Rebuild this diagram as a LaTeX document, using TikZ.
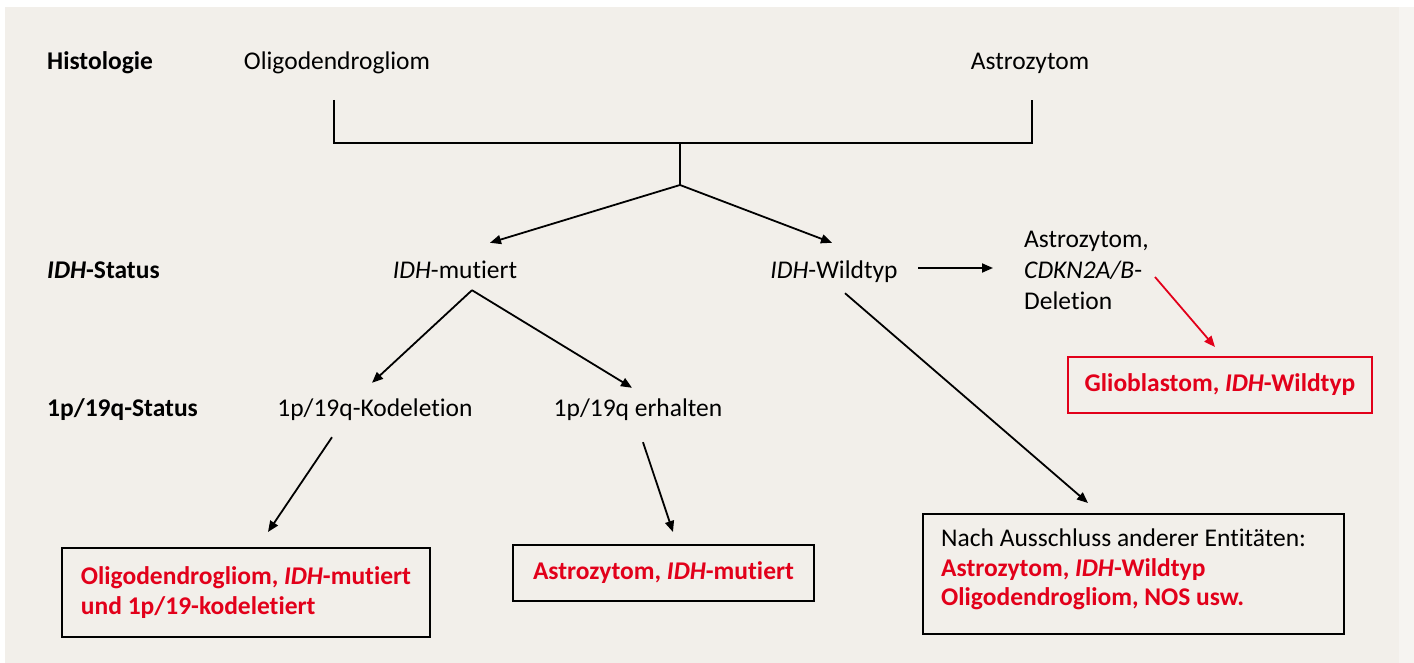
\documentclass[tikz,border=0pt]{standalone}
\usepackage{fontspec}
\setmainfont{Carlito}[Ligatures={NoCommon,NoRequired,NoContextual},RawFeature={-liga;-clig;-calt;-rlig;-dlig}]
\usetikzlibrary{arrows.meta,calc}
\definecolor{bg}{RGB}{242,239,234}
\definecolor{bgr}{RGB}{246,244,241}
\definecolor{dred}{RGB}{226,0,26}
\begin{document}
\begin{tikzpicture}[x=1pt,y=-1pt,
  font=\fontsize{25.5}{30}\selectfont,
  txt/.style={inner sep=0pt, text height=18pt, text depth=6pt, anchor=base},
  lab/.style={txt, anchor=base west, font=\fontsize{25.5}{30}\selectfont\bfseries},
  arr/.style={-{Triangle[length=11pt,width=9pt]}, line width=1.8pt},
  redarr/.style={arr, draw=dred},
  conn/.style={line width=2pt},
  box/.style={draw, line width=2pt, inner sep=0pt, align=left,
    font=\fontsize{25.5}{29.5}\selectfont\bfseries, text=dred}]
\useasboundingbox (0,0) rectangle (1414,663);
\fill[white] (0,0) rectangle (1414,663);
\fill[bg] (5,7) rectangle (1399,663);
\fill[bgr] (1399,7) rectangle (1414,663);

% row labels
\node[lab] (hist) at (47,70) {Histologie};
\node[lab] (idhlab) at (47,278) {\textit{IDH}-Status};
\node[lab] (pqlab) at (47,416) {1p/19q-Status};

% histology
\node[txt] (oligo) at (337,70) {Oligodendrogliom};
\node[txt] (astro) at (1030,70) {Astrozytom};
\coordinate (brL) at (334,100);
\coordinate (brR) at (1032,100);
\coordinate (brM) at (680,143);
\coordinate (apex) at (680,185);
\draw[conn] (brL) |- (brM) -| (brR);
\draw[conn] (brM) -- (apex);

% IDH status
\node[txt] (mut) at (455,278) {\textit{IDH}-mutiert};
\node[txt] (wt) at (834,278) {\textit{IDH}-Wildtyp};
\node[inner sep=0pt, anchor=north west, align=left,
  font=\fontsize{25.5}{31}\selectfont] (cdkn) at (1024,231)
  {Astrozytom,\\\textit{CDKN2A/B}-\\Deletion};

% 1p/19q status
\node[txt] (kod) at (375,416) {1p/19q-Kodeletion};
\node[txt] (erh) at (638,416) {1p/19q erhalten};

% result boxes
\node[box, draw=dred, minimum width=304pt, minimum height=56pt] (glio) at (1220,385)
  {Glioblastom, \textit{IDH}-Wildtyp};
\node[box, minimum width=368pt, minimum height=89pt, yshift=-3pt] (b1) at (246,589.5)
  {Oligodendrogliom, \textit{IDH}-mutiert\\und 1p/19-kodeletiert};
\node[box, minimum width=301pt, minimum height=56pt] (b2) at (663.5,573)
  {Astrozytom, \textit{IDH}-mutiert};
\node[draw, line width=2pt, minimum width=421pt, minimum height=120pt] (b3) at (1133.5,574) {};
\node[inner sep=0pt, anchor=north west, align=left,
  font=\fontsize{25.5}{29.5}\selectfont\bfseries, text=dred] (b3t)
  at ($(b3.north west)+(19,16)$)
  {{\mdseries\color{black}Nach Ausschluss anderer Entitäten:}\\Astrozytom, \textit{IDH}-Wildtyp\\Oligodendrogliom, NOS usw.};

% connectors
\draw[arr] (apex) -- ($(mut.north)+(35,-17)$);
\draw[arr] (apex) -- ($(wt.north)+(-2,-17)$);
\draw[arr] ($(wt.center)+(84,-4)$) -- ($(cdkn.west |- wt.center)+(-31,-4)$);
\draw[redarr] ($(cdkn.north west)+(131,46)$) -- ($(glio.north)+(-5,-9)$);
\draw[arr] ($(mut.south)+(17,6)$) -- ($(kod.north)+(-3,-15)$);
\draw[arr] ($(mut.south)+(17,6)$) -- ($(erh.north)+(-6,-10)$);
\draw[arr] ($(kod.south)+(-43,15)$) -- ($(b1.north)+(22,-15)$);
\draw[arr] ($(erh.south)+(5,20)$) -- ($(b2.north)+(9.5,-12)$);
\draw[arr] ($(wt.south)+(11,9)$) -- ($(b3.north)+(-45.5,-10)$);
\end{tikzpicture}
\end{document}
